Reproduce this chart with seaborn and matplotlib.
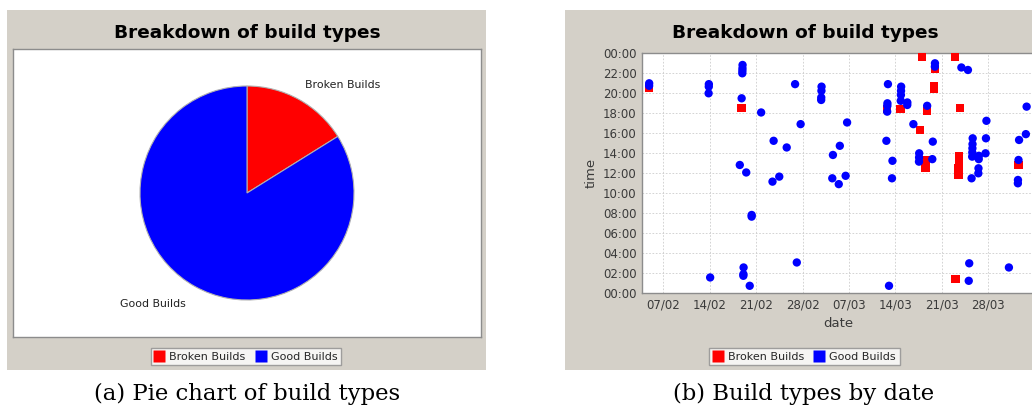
import pandas as pd
import matplotlib
matplotlib.use('Agg')
import matplotlib.pyplot as plt
import matplotlib.dates as mdates
from matplotlib.patches import Rectangle
from matplotlib.lines import Line2D
import seaborn as sns

# Data
pie_labels = ['Broken Builds', 'Good Builds']
pie_counts = [20, 104]

broken_builds = [
    '2007-02-04 20:30', '2007-02-18 18:30', '2007-03-12 18:25', '2007-03-14 18:25',
    '2007-03-17 16:20', '2007-03-17 23:40', '2007-03-18 18:15', '2007-03-18 13:20',
    '2007-03-18 12:30', '2007-03-19 22:25', '2007-03-19 20:40', '2007-03-19 20:25',
    '2007-03-22 23:40', '2007-03-23 18:30', '2007-03-23 13:40', '2007-03-23 13:10',
    '2007-03-23 12:30', '2007-03-23 11:50', '2007-03-23 01:25', '2007-04-01 12:50',
]

good_builds = [
    '2007-02-04 21:00', '2007-02-04 20:45',
    '2007-02-13 20:55', '2007-02-13 20:40', '2007-02-13 20:00', '2007-02-14 01:35',
    '2007-02-18 22:50', '2007-02-18 22:30', '2007-02-18 22:15', '2007-02-18 22:00',
    '2007-02-18 19:30', '2007-02-18 12:50',
    '2007-02-19 12:05', '2007-02-19 02:35', '2007-02-19 01:55', '2007-02-19 01:45',
    '2007-02-20 07:50', '2007-02-20 07:40', '2007-02-20 00:45', '2007-02-21 18:05',
    '2007-02-23 15:15', '2007-02-23 11:10', '2007-02-24 11:40', '2007-02-25 14:35',
    '2007-02-26 20:55', '2007-02-27 16:55', '2007-02-27 03:05',
    '2007-03-02 20:40', '2007-03-02 20:15', '2007-03-02 19:35', '2007-03-02 19:20',
    '2007-03-04 13:50', '2007-03-04 11:30', '2007-03-05 14:45', '2007-03-05 10:55',
    '2007-03-06 17:05', '2007-03-06 11:45',
    '2007-03-12 20:55', '2007-03-12 19:00', '2007-03-12 18:45', '2007-03-12 18:10',
    '2007-03-12 15:15', '2007-03-13 13:15', '2007-03-13 11:30', '2007-03-13 00:45',
    '2007-03-14 20:40', '2007-03-14 20:15', '2007-03-14 19:50', '2007-03-14 19:15',
    '2007-03-15 19:05', '2007-03-15 18:50', '2007-03-16 16:55',
    '2007-03-17 14:00', '2007-03-17 13:35', '2007-03-17 13:10', '2007-03-18 18:45',
    '2007-03-19 23:00', '2007-03-19 22:40', '2007-03-19 15:10', '2007-03-19 13:25',
    '2007-03-23 22:35', '2007-03-24 22:20',
    '2007-03-25 15:30', '2007-03-25 14:55', '2007-03-25 14:30', '2007-03-25 14:05',
    '2007-03-25 13:40', '2007-03-25 11:30', '2007-03-25 03:00', '2007-03-25 01:15',
    '2007-03-26 13:45', '2007-03-26 13:25', '2007-03-26 12:30', '2007-03-26 12:00',
    '2007-03-27 17:15', '2007-03-27 15:30', '2007-03-27 14:00', '2007-03-31 02:35',
    '2007-04-01 15:20', '2007-04-01 13:20', '2007-04-01 11:20', '2007-04-01 11:00',
    '2007-04-02 18:40', '2007-04-02 15:55',
]

date_ticks = ['2007-02-07', '2007-02-14', '2007-02-21', '2007-02-28',
              '2007-03-07', '2007-03-14', '2007-03-21', '2007-03-28']
hour_ticks = list(range(0, 25, 2))

colors = {'Broken Builds': '#ff0000', 'Good Builds': '#0000ff'}
panel_grey = '#d4d0c8'

sns.set_style('white')
plt.rcParams['font.family'] = ['DejaVu Sans']

W, H = 1032, 408
fig = plt.figure(figsize=(W / 100, H / 100), dpi=100)
fig.patch.set_facecolor('white')


def fx(px):
    return px / W


def fy(py):
    return 1 - py / H


# grey chart panels
for x0, x1 in [(7, 486), (565, 1040)]:
    fig.add_artist(Rectangle((fx(x0), fy(370)), fx(x1 - x0), (370 - 10) / H,
                             transform=fig.transFigure, facecolor=panel_grey,
                             edgecolor='none', zorder=0))

# ---------------- (a) pie chart ----------------
ax1 = fig.add_axes([fx(13), fy(337), fx(468), 288 / H])
ax1.set_facecolor('white')
ax1.pie(pie_counts, colors=[colors[k] for k in pie_labels], startangle=90,
        counterclock=False, center=(247, H - 193), radius=107, frame=True,
        wedgeprops=dict(edgecolor='#b0b0b0', linewidth=0.8))
ax1.set_xlim(13, 481)
ax1.set_ylim(H - 337, H - 49)
ax1.set_aspect('auto')
ax1.set_xticks([])
ax1.set_yticks([])
for sp in ax1.spines.values():
    sp.set_color('#8c8c8c')
    sp.set_linewidth(1)
ax1.text(305, H - 85, 'Broken Builds', fontsize=7.9, ha='left', va='center', color='#222222')
ax1.text(120, H - 304, 'Good Builds', fontsize=7.9, ha='left', va='center', color='#222222')

# ---------------- (b) scatter by date ----------------
df = pd.DataFrame({
    'when': pd.to_datetime(broken_builds + good_builds),
    'type': ['Broken Builds'] * len(broken_builds) + ['Good Builds'] * len(good_builds),
})
df['hour'] = df['when'].dt.hour + df['when'].dt.minute / 60

ax2 = fig.add_axes([fx(642), fy(293.3), fx(1045 - 642), 240 / H])
ax2.set_facecolor('white')
sns.scatterplot(data=df, x='when', y='hour', hue='type', style='type',
                hue_order=pie_labels, style_order=pie_labels,
                markers={'Broken Builds': 's', 'Good Builds': 'o'},
                palette=colors, s=36, linewidth=0, legend=False, ax=ax2, zorder=3)
ax2.set_xlim(pd.Timestamp('2007-02-03 19:00'), pd.Timestamp('2007-04-05 13:10'))
ax2.set_ylim(0, 24)
ax2.set_xticks(pd.to_datetime(date_ticks))
ax2.xaxis.set_major_formatter(mdates.DateFormatter('%d/%m'))
ax2.set_yticks(hour_ticks)
ax2.set_yticklabels([f'{h % 24:02d}:00' for h in hour_ticks])
ax2.grid(True, color='#cccccc', linestyle=(0, (2, 2)), linewidth=0.6)
ax2.set_axisbelow(True)
ax2.tick_params(length=2, width=0.8, color='#808080', labelsize=8.5,
                labelcolor='#3a3a3a', pad=2)
for sp in ax2.spines.values():
    sp.set_color('#8c8c8c')
    sp.set_linewidth(1)
ax2.set_xlabel('date', fontsize=9.5, color='#3a3a3a')
ax2.set_ylabel('time', fontsize=9.5, color='#3a3a3a')
ax2.xaxis.set_label_coords((838 - 642) / (1045 - 642), (293.3 - 317) / 240)
ax2.yaxis.set_label_coords((598 - 642) / (1045 - 642), 0.5)

# titles
for cx in (247, 805):
    fig.text(fx(cx), fy(33), 'Breakdown of build types', ha='center', va='center',
             fontsize=13.3, fontweight='bold', color='black')

# legends
handles = [Line2D([], [], marker='s', linestyle='none', markersize=8,
                  markerfacecolor=colors[k], markeredgecolor='none', label=k)
           for k in pie_labels]
for cx in (246, 804.5):
    leg = fig.legend(handles=handles, loc='center', bbox_to_anchor=(fx(cx), fy(356.5)),
                     ncol=2, fontsize=8, frameon=True, fancybox=False,
                     edgecolor='#8c8c8c', borderpad=0.35, handlelength=0.8,
                     handletextpad=0.5, columnspacing=1.0, borderaxespad=0)
    leg.get_frame().set_linewidth(1)

# captions
fig.text(fx(247), fy(394), '(a) Pie chart of build types', ha='center', va='center',
         fontsize=16.4, family='DejaVu Serif', color='black')
fig.text(fx(804), fy(394), '(b) Build types by date', ha='center', va='center',
         fontsize=16.4, family='DejaVu Serif', color='black')

fig.savefig('out.png', dpi=100)
